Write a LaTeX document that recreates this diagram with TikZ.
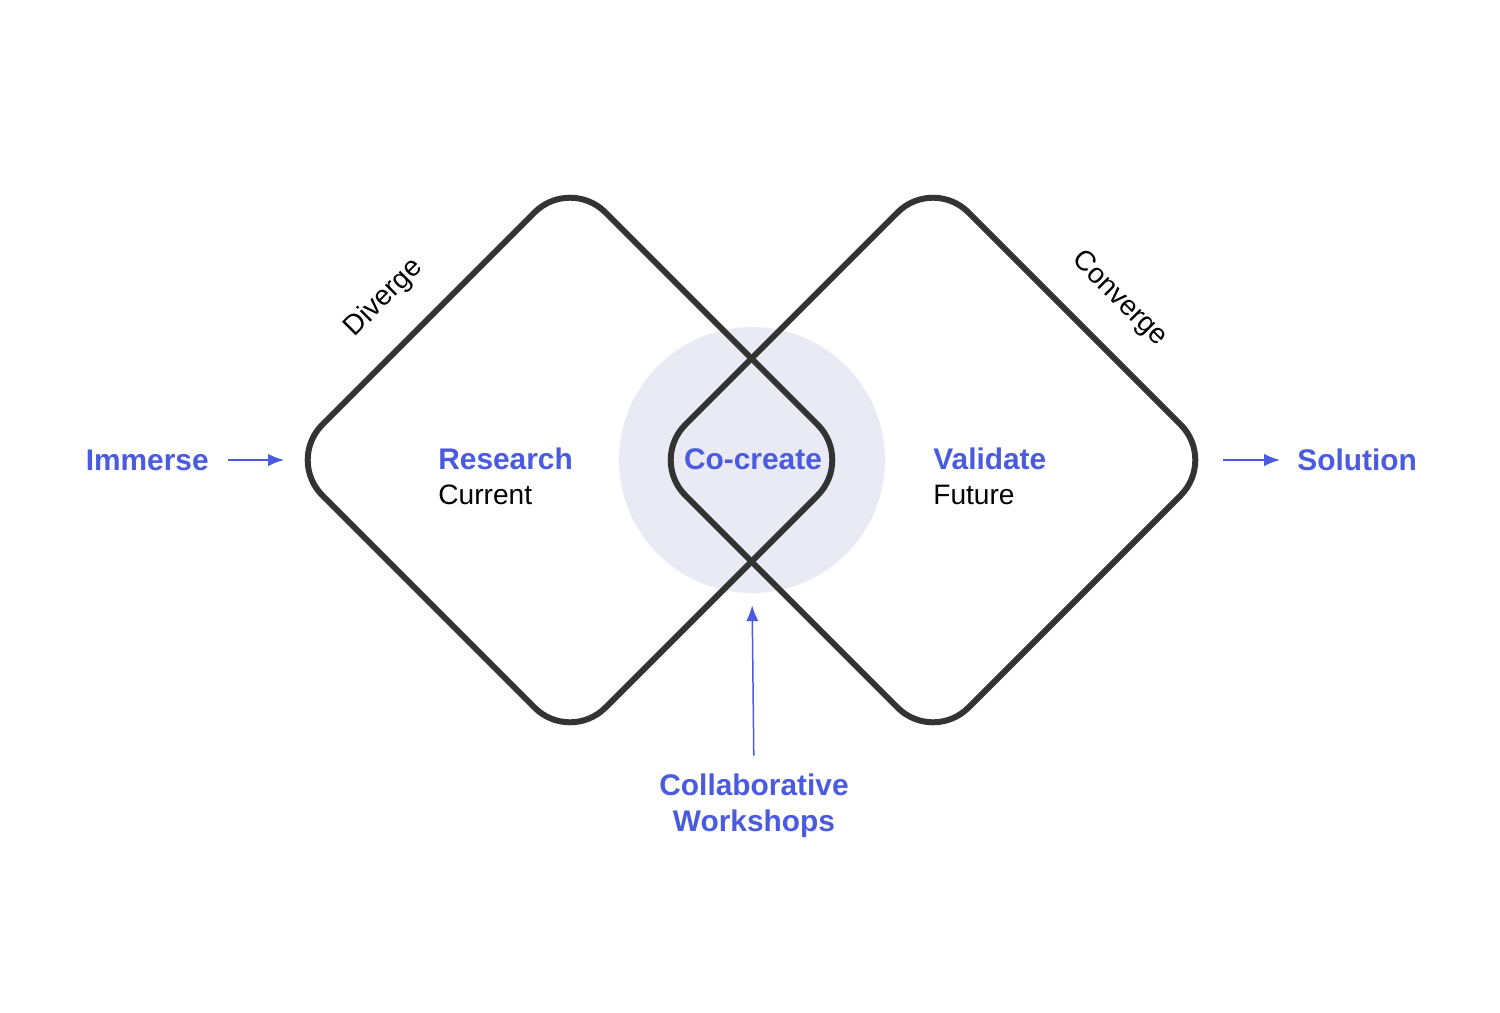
\documentclass[tikz,border=0pt]{standalone}
\usepackage{fontspec}
\setmainfont{Liberation Sans}
\usetikzlibrary{arrows.meta,positioning}
\definecolor{Ink}{HTML}{333333}
\definecolor{Accent}{HTML}{4A5BE0}
\definecolor{Haze}{HTML}{EAEAF4}

\begin{document}
\begin{tikzpicture}[
  x=0.02cm,y=-0.02cm,>={Latex[length=9pt,width=7pt]},
  loop/.style={draw=Ink,line width=3.4pt,rounded corners=1cm},
  label/.style={inner sep=0pt,font=\fontsize{17}{20.5}\selectfont\bfseries,text=Accent},
  sub/.style={inner sep=0pt,font=\fontsize{16}{19}\selectfont},
  phase/.style={inner sep=0pt,font=\fontsize{16}{19}\selectfont},
  flow/.style={->,Accent,line width=0.85pt}
]
  \useasboundingbox[fill=white] (0,0) rectangle (1500,1012);
  % shared zone
  \node[circle,fill=Haze,minimum size=5.32cm,inner sep=0pt] (zone) at (752,460) {};
  % the two diamonds
  \coordinate (lwest) at (287,460);
  \coordinate (reast) at (1216,460);
  \draw[loop] (570,177) -- (853,460) -- (570,743) -- (lwest) -- cycle;
  \draw[loop] (933,177) -- (reast) -- (933,743) -- (650,460) -- cycle;
  \node[phase,rotate=45] (diverge) at (384,298) {Diverge};
  \node[phase,rotate=-45] (converge) at (1119,299) {Converge};
  % labels
  \node[label,anchor=west] (research) at (438,459) {Research};
  \node[sub,anchor=west] (current) at (438,495) {Current};
  \node[label,anchor=west] (validate) at (933,459) {Validate};
  \node[sub,anchor=west] (future) at (933,495) {Future};
  \node[label] (cocreate) at (753,459) {Co-create};
  \node[label,anchor=east] (immerse) at (209,460) {Immerse};
  \node[label,anchor=west] (solution) at (1297,460) {Solution};
  \node[label,align=center] (workshops) at (754,806) {Collaborative\\Workshops};
  % arrows
  \draw[flow,shorten <=0.38cm,shorten >=0.06cm] (immerse.east) -- (lwest);
  \draw[flow,shorten <=0.14cm,shorten >=0.34cm] (reast) -- (solution.west);
  \draw[flow,shorten <=0.36cm,shorten >=0.24cm] (workshops.north) -- (zone.south);
\end{tikzpicture}
\end{document}
